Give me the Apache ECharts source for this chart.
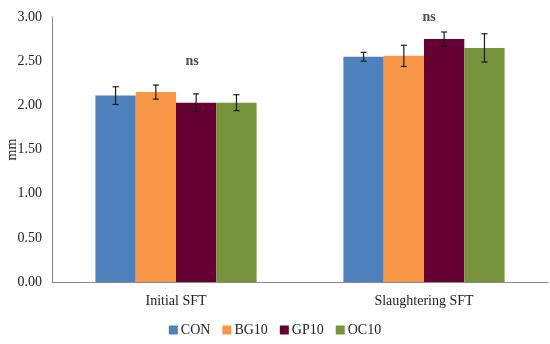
<!DOCTYPE html>
<html>
<head>
<meta charset="utf-8">
<script src="https://cdn.jsdelivr.net/npm/echarts@6/dist/echarts.min.js"></script>
<style>html,body{margin:0;padding:0;background:#fff}#c{width:550px;height:344px}</style>
</head>
<body>
<div id="c"></div>
<script>
var categories = ['Initial SFT', 'Slaughtering SFT'];
var seriesNames = ['CON', 'BG10', 'GP10', 'OC10'];
var colors = ['#4f81bd', '#f79646', '#660033', '#77933c'];
var CON = [2.11, 2.55];
var BG10 = [2.15, 2.56];
var GP10 = [2.03, 2.75];
var OC10 = [2.03, 2.65];
var CON_err = [0.10, 0.05];
var BG10_err = [0.08, 0.12];
var GP10_err = [0.10, 0.08];
var OC10_err = [0.09, 0.16];
var nsY = [2.50, 3.00];
var yTicks = ['0.00', '0.50', '1.00', '1.50', '2.00', '2.50', '3.00'];

var values = [CON, BG10, GP10, OC10];
var errs = [CON_err, BG10_err, GP10_err, OC10_err];
var GAP = 0.35;
var font = 'Liberation Serif';
var nsShift = [16, 5];

var series = seriesNames.map(function (n, i) {
  return {
    name: n, type: 'bar', data: values[i], barGap: 0, barCategoryGap: (GAP * 100) + '%',
    itemStyle: { color: colors[i] }, z: 2
  };
});

var errData = [];
for (var s = 0; s < 4; s++) for (var c = 0; c < 2; c++) errData.push([c, values[s][c], errs[s][c], s]);

series.push({
  type: 'custom', name: 'err', z: 5, silent: true,
  data: errData,
  encode: { x: 0, y: 1 },
  renderItem: function (params, api) {
    var c = api.value(0), v = api.value(1), e = api.value(2), s = api.value(3);
    var center = api.coord([c, v]);
    var band = api.size([1, 0])[0];
    var bw = band * (1 - GAP) / 4;
    var x = center[0] - band * (1 - GAP) / 2 + (s + 0.5) * bw;
    var top = api.coord([c, v + e])[1], bot = api.coord([c, v - e])[1];
    var st = { stroke: '#1a1a1a', lineWidth: 1.2 };
    return { type: 'group', children: [
      { type: 'line', shape: { x1: x, y1: top, x2: x, y2: bot }, style: st },
      { type: 'line', shape: { x1: x - 3, y1: top, x2: x + 3, y2: top }, style: st },
      { type: 'line', shape: { x1: x - 3, y1: bot, x2: x + 3, y2: bot }, style: st }
    ]};
  }
});

series.push({
  type: 'scatter', name: 'ns', symbolSize: 0, silent: true, z: 6,
  data: categories.map(function (c, i) {
    return { value: [i, nsY[i]], label: { offset: [nsShift[i], 0] } };
  }),
  label: { show: true, formatter: 'ns', position: 'inside',
    fontFamily: font, fontWeight: 'bold', fontSize: 14, color: '#222' }
});

var chart = echarts.init(document.getElementById('c'));
chart.setOption({
  animation: false,
  textStyle: { fontFamily: font },
  grid: { left: 52, right: 2, top: 17, bottom: 62, containLabel: false, outerBoundsMode: 'none' },
  legend: {
    data: seriesNames, bottom: 2, left: 'center', itemWidth: 9, itemHeight: 9, itemGap: 12,
    icon: 'rect', textStyle: { fontFamily: font, fontSize: 14, color: '#222', padding: [0, 0, 0, -2] }
  },
  xAxis: {
    type: 'category', data: categories,
    axisLine: { lineStyle: { color: '#888', width: 1 } },
    axisTick: { show: false },
    axisLabel: { fontFamily: font, fontSize: 14, color: '#222', margin: 12 }
  },
  yAxis: {
    type: 'value', min: 0, max: 3, interval: 0.5,
    name: 'mm', nameLocation: 'middle', nameGap: 33, nameRotate: 90, nameMoveOverlap: false,
    nameTextStyle: { fontFamily: font, fontSize: 14, color: '#222' },
    axisLine: { show: true, lineStyle: { color: '#888', width: 1 } },
    axisTick: { show: false },
    splitLine: { show: false },
    axisLabel: { fontFamily: font, fontSize: 14, color: '#222', margin: 10,
      formatter: function (v) { return yTicks[Math.round(v / 0.5)]; } }
  },
  series: series
});
</script>
</body>
</html>
